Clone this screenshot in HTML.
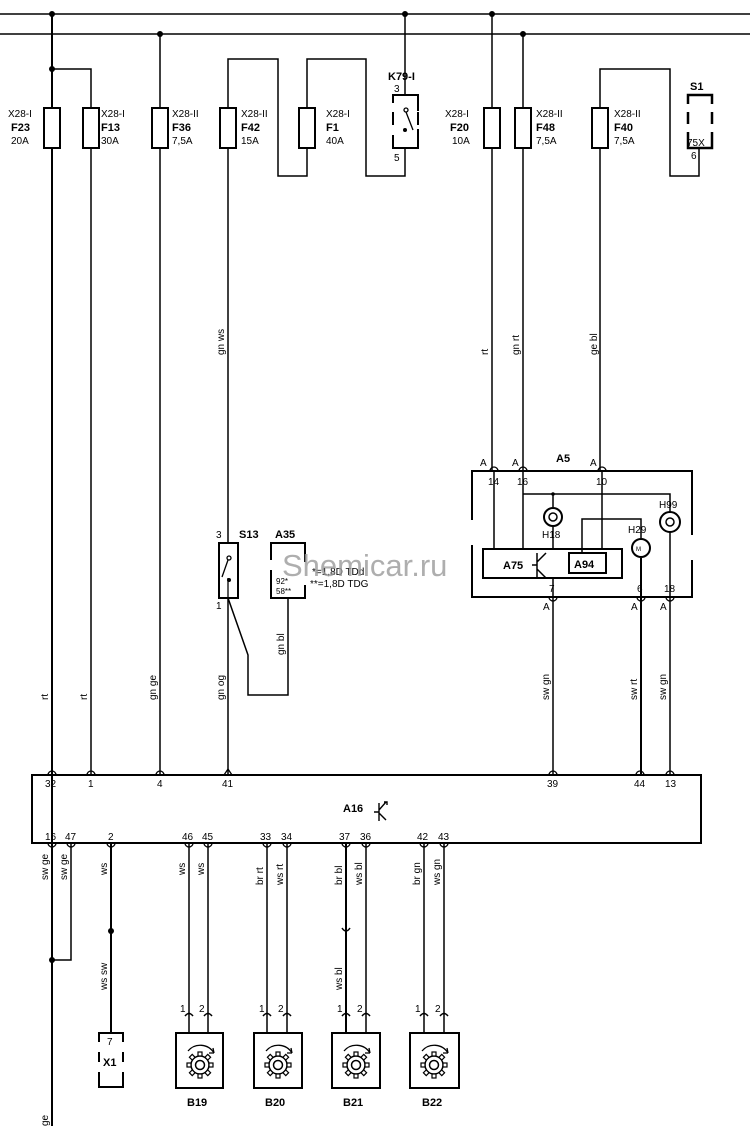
<!DOCTYPE html>
<html><head><meta charset="utf-8"><style>
html,body{margin:0;padding:0;background:#fff}
svg{display:block}
text{font-family:"Liberation Sans",sans-serif;fill:#000}
.s{font-size:10px}
.b{font-size:11px;font-weight:bold}
.w{font-size:10px}
</style></head><body>
<svg width="750" height="1126" viewBox="0 0 750 1126" xmlns="http://www.w3.org/2000/svg">
<defs>
<g id="gear">
<path d="M-12,-14 A16,16 0 0 1 14,-12" fill="none" stroke="#000" stroke-width="1.3"/>
<path d="M14,-12 l-1,-5 M14,-12 l-5,0" stroke="#000" stroke-width="1.3"/>
<circle r="9" fill="none" stroke="#000" stroke-width="1.5"/>
<circle r="4.5" fill="none" stroke="#000" stroke-width="1.5"/>
<g fill="#fff" stroke="#000" stroke-width="1.2">
<rect x="-2" y="-13" width="4" height="4"/><rect x="-2" y="9" width="4" height="4"/>
<rect x="-13" y="-2" width="4" height="4"/><rect x="9" y="-2" width="4" height="4"/>
<rect x="-2" y="-13" width="4" height="4" transform="rotate(45)"/><rect x="-2" y="-13" width="4" height="4" transform="rotate(135)"/>
<rect x="-2" y="-13" width="4" height="4" transform="rotate(225)"/><rect x="-2" y="-13" width="4" height="4" transform="rotate(315)"/>
</g>
</g>
</defs>
<g stroke="#000" fill="none" stroke-width="1.5">
<line x1="0" y1="14" x2="750" y2="14"/>
<line x1="0" y1="34" x2="750" y2="34"/>
<!-- F23/F13 -->
<line x1="52" y1="14" x2="52" y2="1126" stroke-width="2"/>
<polyline points="52,69 91,69 91,775"/>
<line x1="160" y1="34" x2="160" y2="775"/>
<!-- F42/F1 loop -->
<polyline points="228,775 228,59 278,59 278,176 307,176 307,59 366,59 366,176 405,176 405,148"/>
<line x1="405" y1="14" x2="405" y2="95"/>
<line x1="492" y1="14" x2="492" y2="472"/>
<line x1="523" y1="34" x2="523" y2="472"/>
<polyline points="600,472 600,69 670,69 670,176 699,176 699,148"/>
</g>
<g fill="#000">
<circle cx="52" cy="14" r="3"/><circle cx="160" cy="34" r="3"/><circle cx="405" cy="14" r="3"/>
<circle cx="492" cy="14" r="3"/><circle cx="523" cy="34" r="3"/><circle cx="52" cy="69" r="3"/>
</g>
<!-- fuses -->
<g fill="#fff" stroke="#000" stroke-width="2">
<rect x="44" y="108" width="16" height="40"/><rect x="83" y="108" width="16" height="40"/>
<rect x="152" y="108" width="16" height="40"/><rect x="220" y="108" width="16" height="40"/>
<rect x="299" y="108" width="16" height="40"/><rect x="484" y="108" width="16" height="40"/>
<rect x="515" y="108" width="16" height="40"/><rect x="592" y="108" width="16" height="40"/>
</g>
<g class="s">
<text x="8" y="117">X28-I</text><text x="11" y="131" class="b">F23</text><text x="11" y="144">20A</text>
<text x="101" y="117">X28-I</text><text x="101" y="131" class="b">F13</text><text x="101" y="144">30A</text>
<text x="172" y="117">X28-II</text><text x="172" y="131" class="b">F36</text><text x="172" y="144">7,5A</text>
<text x="241" y="117">X28-II</text><text x="241" y="131" class="b">F42</text><text x="241" y="144">15A</text>
<text x="326" y="117">X28-I</text><text x="326" y="131" class="b">F1</text><text x="326" y="144">40A</text>
<text x="445" y="117">X28-I</text><text x="450" y="131" class="b">F20</text><text x="452" y="144">10A</text>
<text x="536" y="117">X28-II</text><text x="536" y="131" class="b">F48</text><text x="536" y="144">7,5A</text>
<text x="614" y="117">X28-II</text><text x="614" y="131" class="b">F40</text><text x="614" y="144">7,5A</text>
</g>
<!-- K79 -->
<text x="388" y="80" class="b">K79-I</text>
<text x="394" y="92" class="s">3</text><text x="394" y="161" class="s">5</text>
<g stroke="#000" stroke-width="2" fill="none">
<path d="M393,103 V95 H418 V103 M393,112 V125 M418,112 V125 M393,135 V148 H418 V135" />
<path d="M418,103 V148" stroke-dasharray="8,5"/>
</g>
<g stroke="#000" stroke-width="1.3" fill="none"><circle cx="406" cy="110" r="2"/><line x1="406" y1="112" x2="413" y2="130"/></g>
<circle cx="405" cy="130" r="2" fill="#000"/>
<!-- S1 -->
<text x="690" y="90" class="b">S1</text>
<g stroke="#000" stroke-width="2.5" fill="none">
<path d="M688,104 V95 H712 V104 M688,112 V124 M712,112 V124 M688,132 V148 H712 V132"/>
</g>
<text x="687" y="146" class="s">75X</text><text x="691" y="159" class="s">6</text>
<!-- wire labels upper -->
<g class="w">
<text transform="translate(224,355) rotate(-90)">gn ws</text>
<text transform="translate(488,355) rotate(-90)">rt</text>
<text transform="translate(519,355) rotate(-90)">gn rt</text>
<text transform="translate(597,355) rotate(-90)">ge bl</text>
</g>
<!-- A5 -->
<text x="556" y="462" class="b">A5</text>
<g stroke="#000" fill="none" stroke-width="2">
<path d="M472,520 V471 H692 V535 M472,545 V597 H692 V560 M692,580 V597"/>
</g>
<g class="s"><text x="480" y="466">A</text><text x="512" y="466">A</text><text x="590" y="466">A</text>
<text x="488" y="485">14</text><text x="517" y="485">16</text><text x="596" y="485">10</text>
<text x="549" y="592">7</text><text x="637" y="592">6</text><text x="664" y="592">18</text>
<text x="543" y="610">A</text><text x="631" y="610">A</text><text x="660" y="610">A</text>
<text x="542" y="538">H18</text><text x="628" y="533">H29</text><text x="659" y="508">H99</text></g>
<g stroke="#000" fill="none" stroke-width="1.5">
<line x1="494" y1="472" x2="494" y2="549"/>
<line x1="523" y1="472" x2="523" y2="549"/>
<line x1="602" y1="472" x2="602" y2="549"/>
<polyline points="523,494 670,494 670,512"/>
<line x1="553" y1="494" x2="553" y2="507"/>
<line x1="553" y1="527" x2="553" y2="549"/>
<polyline points="582,553 582,519 641,519 641,538"/>
<rect x="483" y="549" width="139" height="29" stroke-width="2"/>
<rect x="569" y="553" width="37" height="20" stroke-width="2"/>
<path d="M537,553 V578 M537,565 H532 M537,562 L546,553 M537,569 L546,578"/>
<line x1="553" y1="578" x2="553" y2="775"/>
<line x1="641" y1="558" x2="641" y2="775" stroke-width="2"/>
<line x1="670" y1="532" x2="670" y2="775"/>
<circle cx="553" cy="517" r="9" stroke-width="2"/><circle cx="553" cy="517" r="4"/>
<circle cx="641" cy="548" r="9" stroke-width="2"/>
<circle cx="670" cy="522" r="10" stroke-width="2"/><circle cx="670" cy="522" r="4"/>
</g>
<text x="503" y="569" class="b">A75</text><text x="574" y="568" class="b">A94</text>
<text x="636" y="551" style="font-size:6px">M</text>
<circle cx="553" cy="494" r="1.8" fill="#000"/>
<!-- S13 / A35 -->
<text x="239" y="538" class="b">S13</text><text x="275" y="538" class="b">A35</text>
<text x="216" y="538" class="s">3</text><text x="216" y="609" class="s">1</text>
<rect x="219" y="543" width="19" height="55" fill="#fff" stroke="#000" stroke-width="2"/>
<g stroke="#000" stroke-width="1.3" fill="none"><circle cx="229" cy="558" r="2"/><line x1="228" y1="560" x2="222" y2="577"/><line x1="228" y1="578" x2="228" y2="598"/></g>
<circle cx="229" cy="580" r="2" fill="#000"/>
<g stroke="#000" stroke-width="2" fill="none"><path d="M271,560 V543 H305 V562 M271,570 V598 H305 V585"/></g>
<text x="276" y="584" style="font-size:8px">92*</text><text x="276" y="594" style="font-size:8px">58**</text>
<text x="312" y="575" class="s">*=1,8D TDd</text><text x="310" y="587" class="s">**=1,8D TDG</text>
<polyline points="228,598 248,655 248,695 288,695 288,598" stroke="#000" stroke-width="1.5" fill="none"/>
<text x="282" y="576" style="font-size:31px;fill:#9a9a9a;opacity:0.8">Shemicar.ru</text>
<!-- labels middle -->
<g class="w">
<text transform="translate(48,700) rotate(-90)">rt</text>
<text transform="translate(87,700) rotate(-90)">rt</text>
<text transform="translate(156,700) rotate(-90)">gn ge</text>
<text transform="translate(224,700) rotate(-90)">gn og</text>
<text transform="translate(284,655) rotate(-90)">gn bl</text>
<text transform="translate(549,700) rotate(-90)">sw gn</text>
<text transform="translate(637,700) rotate(-90)">sw rt</text>
<text transform="translate(666,700) rotate(-90)">sw gn</text>
</g>
<!-- A16 -->
<rect x="32" y="775" width="669" height="68" fill="none" stroke="#000" stroke-width="2"/>
<text x="343" y="812" class="b">A16</text>
<path d="M374,812 H379 M379,803 V821 M379,810 L386,802 M379,813 L386,820 M384,802 h3 v3" stroke="#000" stroke-width="1.4" fill="none"/>
<g class="s">
<text x="45" y="787">32</text><text x="88" y="787">1</text><text x="157" y="787">4</text><text x="222" y="787">41</text>
<text x="547" y="787">39</text><text x="634" y="787">44</text><text x="665" y="787">13</text>
<text x="45" y="840">16</text><text x="65" y="840">47</text><text x="108" y="840">2</text>
<text x="182" y="840">46</text><text x="202" y="840">45</text><text x="260" y="840">33</text><text x="281" y="840">34</text>
<text x="339" y="840">37</text><text x="360" y="840">36</text><text x="417" y="840">42</text><text x="438" y="840">43</text>
</g>
<g stroke="#000" fill="none" stroke-width="1.5">
<polyline points="71,843 71,960 52,960"/>
<line x1="111" y1="843" x2="111" y2="1032" stroke-width="2"/>
<line x1="189" y1="843" x2="189" y2="1032"/><line x1="208" y1="843" x2="208" y2="1032"/>
<line x1="267" y1="843" x2="267" y2="1032"/><line x1="287" y1="843" x2="287" y2="1032"/>
<line x1="346" y1="843" x2="346" y2="1032" stroke-width="2"/><line x1="366" y1="843" x2="366" y2="1032"/>
<line x1="424" y1="843" x2="424" y2="1032"/><line x1="444" y1="843" x2="444" y2="1032"/>
<path d="M342,928 Q346,934 350,928"/>
<path d="M185,1016 q4,-5 8,0 M204,1016 q4,-5 8,0 M263,1016 q4,-5 8,0 M283,1016 q4,-5 8,0 M342,1016 q4,-5 8,0 M362,1016 q4,-5 8,0 M420,1016 q4,-5 8,0 M440,1016 q4,-5 8,0"/>
</g>
<circle cx="52" cy="960" r="3" fill="#000"/><circle cx="111" cy="931" r="3" fill="#000"/>
<g class="w">
<text transform="translate(48,880) rotate(-90)">sw ge</text>
<text transform="translate(67,880) rotate(-90)">sw ge</text>
<text transform="translate(107,875) rotate(-90)">ws</text>
<text transform="translate(107,990) rotate(-90)">ws sw</text>
<text transform="translate(185,875) rotate(-90)">ws</text>
<text transform="translate(204,875) rotate(-90)">ws</text>
<text transform="translate(263,885) rotate(-90)">br rt</text>
<text transform="translate(283,885) rotate(-90)">ws rt</text>
<text transform="translate(342,885) rotate(-90)">br bl</text>
<text transform="translate(362,885) rotate(-90)">ws bl</text>
<text transform="translate(342,990) rotate(-90)">ws bl</text>
<text transform="translate(420,885) rotate(-90)">br gn</text>
<text transform="translate(440,885) rotate(-90)">ws gn</text>
<text transform="translate(48,1126) rotate(-90)">ge</text>
</g>
<g class="s">
<text x="180" y="1012">1</text><text x="199" y="1012">2</text><text x="259" y="1012">1</text><text x="278" y="1012">2</text>
<text x="337" y="1012">1</text><text x="357" y="1012">2</text><text x="415" y="1012">1</text><text x="435" y="1012">2</text>
<text x="107" y="1045">7</text>
</g>
<!-- X1 -->
<g stroke="#000" stroke-width="2" fill="none"><path d="M99,1042 V1033 H123 V1042 M99,1052 V1062 M123,1052 V1062 M99,1072 V1087 H123 V1072"/></g>
<text x="103" y="1066" class="b">X1</text>
<!-- sensors -->
<g fill="none" stroke="#000" stroke-width="2">
<rect x="176" y="1033" width="47" height="55"/><rect x="254" y="1033" width="48" height="55"/>
<rect x="332" y="1033" width="48" height="55"/><rect x="410" y="1033" width="49" height="55"/>
</g>
<use href="#gear" x="200" y="1065"/><use href="#gear" x="278" y="1065"/>
<use href="#gear" x="356" y="1065"/><use href="#gear" x="434" y="1065"/>
<g class="b"><text x="187" y="1106">B19</text><text x="265" y="1106">B20</text><text x="343" y="1106">B21</text><text x="422" y="1106">B22</text></g>
<!-- pin loops -->
<g fill="none" stroke="#000" stroke-width="1.3">
<path d="M48,775 a4,4 0 0 1 8,0 M87,775 a4,4 0 0 1 8,0 M156,775 a4,4 0 0 1 8,0 M549,775 a4,4 0 0 1 8,0 M636,775 a4,4 0 0 1 8,0 M666,775 a4,4 0 0 1 8,0"/>
<path d="M48,843 a4,4 0 0 0 8,0 M67,843 a4,4 0 0 0 8,0 M107,843 a4,4 0 0 0 8,0 M185,843 a4,4 0 0 0 8,0 M204,843 a4,4 0 0 0 8,0 M263,843 a4,4 0 0 0 8,0 M283,843 a4,4 0 0 0 8,0 M342,843 a4,4 0 0 0 8,0 M362,843 a4,4 0 0 0 8,0 M420,843 a4,4 0 0 0 8,0 M440,843 a4,4 0 0 0 8,0"/>
<path d="M490,471 a4,4 0 0 1 8,0 M519,471 a4,4 0 0 1 8,0 M598,471 a4,4 0 0 1 8,0 M549,597 a4,4 0 0 0 8,0 M637,597 a4,4 0 0 0 8,0 M666,597 a4,4 0 0 0 8,0"/>
<path d="M224,775 l4,-6 l4,6"/>
</g>
</svg>
</body></html>
